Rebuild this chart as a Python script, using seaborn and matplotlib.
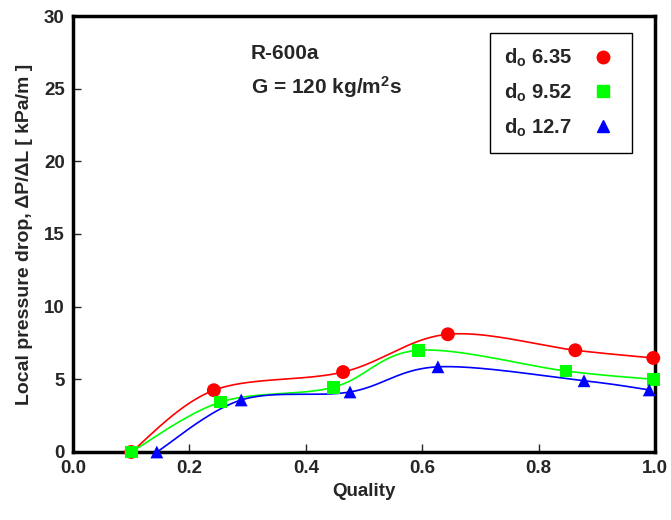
import numpy as np
import pandas as pd
import matplotlib
matplotlib.use('Agg')
import matplotlib.pyplot as plt
import seaborn as sns
from matplotlib.lines import Line2D

# Data
quality_635 = [0.10, 0.242, 0.464, 0.644, 0.863, 0.997]
dp_635 = [0.0, 4.25, 5.5, 8.1, 7.0, 6.47]

quality_952 = [0.10, 0.254, 0.447, 0.594, 0.847, 0.997]
dp_952 = [0.0, 3.44, 4.45, 7.0, 5.57, 5.0]

quality_127 = [0.144, 0.289, 0.476, 0.627, 0.878, 0.99]
dp_127 = [0.0, 3.58, 4.13, 5.86, 4.9, 4.27]

labels = ['6.35', '9.52', '12.7']
colors = ['#ff0000', '#00ff00', '#0000ff']
markers = ['o', 's', '^']


def smooth_curve(x, y, n=40):
    # Bezier smoothing through the measured points (spreadsheet-style smoothed line)
    # done in pixel-ish scaled space so x and y are treated comparably
    sx, sy = 582.0, 436.0 / 30.0
    P = np.column_stack([np.asarray(x, float) * sx, np.asarray(y, float) * sy])
    k = len(P)
    out = []
    for i in range(k - 1):
        p0 = P[i - 1] if i > 0 else P[i]
        p1, p2 = P[i], P[i + 1]
        p3 = P[i + 2] if i + 2 < k else P[i + 1]
        c1 = p1 + (p2 - p0) / 6.0
        c2 = p2 - (p3 - p1) / 6.0
        t = np.linspace(0, 1, n)[:, None]
        seg = ((1 - t) ** 3 * p1 + 3 * (1 - t) ** 2 * t * c1
               + 3 * (1 - t) * t ** 2 * c2 + t ** 3 * p2)
        out.append(seg if i == 0 else seg[1:])
    pts = np.vstack(out)
    return pts[:, 0] / sx, pts[:, 1] / sy


sns.set_style('ticks')
plt.rcParams['font.family'] = ['Liberation Sans', 'DejaVu Sans']
plt.rcParams['font.weight'] = 'bold'
plt.rcParams['mathtext.fontset'] = 'custom'
plt.rcParams['mathtext.rm'] = 'Liberation Sans:bold'
plt.rcParams['mathtext.it'] = 'Liberation Sans:bold'
plt.rcParams['mathtext.bf'] = 'Liberation Sans:bold'

fig = plt.figure(figsize=(6.71, 5.2), dpi=100)
ax = fig.add_axes([0.1088, 0.1308, 0.8674, 0.8384])

series = [(quality_635, dp_635), (quality_952, dp_952), (quality_127, dp_127)]
handles = []
for (qx, qy), lab, col, mk in zip(series, labels, colors, markers):
    xs, ys = smooth_curve(qx, qy)
    curve = pd.DataFrame({'x': xs, 'y': ys})
    sns.lineplot(data=curve, x='x', y='y', color=col, linewidth=1.2,
                 estimator=None, sort=False, ax=ax)
    pts = pd.DataFrame({'x': qx, 'y': qy})
    size = 100 if mk == 'o' else 85
    sns.scatterplot(data=pts, x='x', y='y', color=col, marker=mk, s=size,
                    edgecolor='none', ax=ax, zorder=5, clip_on=False)
    handles.append(Line2D([], [], linestyle='none', marker=mk, color=col,
                          markersize=9 if mk == 'o' else 8.5,
                          label=r'$\mathrm{d_o}$ ' + lab))

ax.set_xlim(0, 1.0)
ax.set_ylim(0, 30)
ax.set_xticks(np.arange(0, 1.01, 0.2))
ax.set_yticks(np.arange(0, 31, 5))
ax.set_xticklabels([f'{v:.1f}' for v in np.arange(0, 1.01, 0.2)])
ax.tick_params(direction='in', length=6, width=1, labelsize=13.5, pad=6)
for lab in ax.get_xticklabels() + ax.get_yticklabels():
    lab.set_fontweight('bold')

for sp in ax.spines.values():
    sp.set_visible(True)
    sp.set_linewidth(2.5)
    sp.set_color('black')

ax.set_xlabel('Quality', fontsize=13.5, fontweight='bold', labelpad=4)
ax.set_ylabel('Local pressure drop, ΔP/ΔL [ kPa/m ]', fontsize=14,
              fontweight='bold', labelpad=8)

ax.text(0.305, 27.4, 'R-600a', fontsize=15, fontweight='bold', va='center')
ax.text(0.305, 25.1, r'G = 120 kg/m$^\mathrm{2}$s', fontsize=15,
        fontweight='bold', va='center')

leg = ax.legend(handles=handles, loc='upper left', bbox_to_anchor=(0.716, 0.962),
                markerfirst=False, frameon=True, fancybox=False, framealpha=1,
                edgecolor='black', prop={'size': 14.5, 'weight': 'bold'},
                handlelength=1.5, handletextpad=0.8, labelspacing=0.62,
                borderpad=0.7, borderaxespad=0)
leg.get_frame().set_linewidth(1.0)

fig.savefig('out.png', dpi=100)
